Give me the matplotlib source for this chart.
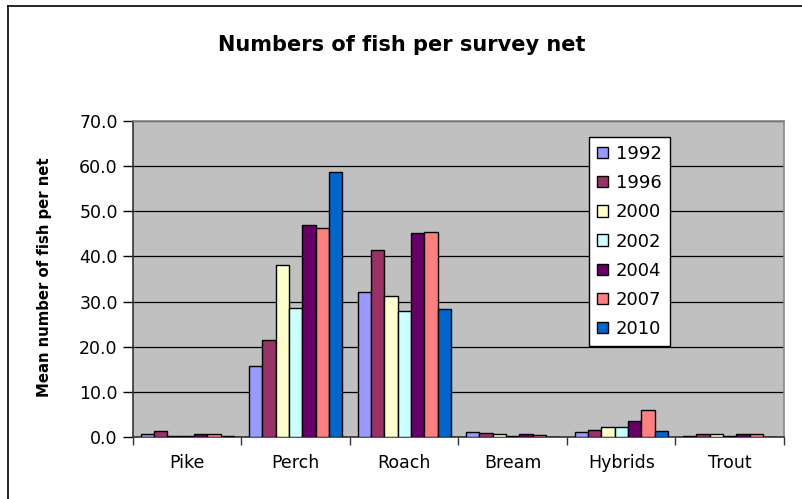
import matplotlib.pyplot as plt
import numpy as np
from matplotlib.lines import Line2D

plt.rcParams['font.family'] = ['DejaVu Sans']

# Mean catch per survey net, by species and survey year
species = ['Pike', 'Perch', 'Roach', 'Bream', 'Hybrids', 'Trout']
years = ['1992', '1996', '2000', '2002', '2004', '2007', '2010']

fish_1992 = [0.7, 15.7, 32.1, 1.2, 1.0, 0.3]
fish_1996 = [1.3, 21.4, 41.4, 0.9, 1.6, 0.7]
fish_2000 = [0.2, 38.2, 31.2, 0.6, 2.2, 0.7]
fish_2002 = [0.2, 28.6, 28.0, 0.3, 2.2, 0.3]
fish_2004 = [0.7, 46.9, 45.1, 0.6, 3.5, 0.7]
fish_2007 = [0.7, 46.3, 45.5, 0.4, 6.0, 0.7]
fish_2010 = [0.3, 58.6, 28.3, 0.0, 1.3, 0.0]

series = [fish_1992, fish_1996, fish_2000, fish_2002, fish_2004, fish_2007, fish_2010]
colors = ['#9999FF', '#993366', '#FFFFCC', '#CCFFFF', '#660066', '#FF8080', '#0066CC']

fig = plt.figure(figsize=(8.03, 4.99), dpi=100)
ax = fig.add_axes([133 / 803, 62 / 499, 651 / 803, 316 / 499])
ax.set_facecolor('#C0C0C0')

x = np.arange(len(species))
w = 0.123
for i, (vals, col, yr) in enumerate(zip(series, colors, years)):
    ax.bar(x + (i - 3) * w, vals, width=w, color=col, edgecolor='black',
           linewidth=1.0, label=yr, zorder=3)

ax.set_xlim(-0.5, len(species) - 0.5)
ax.set_ylim(0, 70)
ax.set_yticks(np.arange(0, 71, 10))
ax.set_yticklabels([f'{v:.1f}' for v in np.arange(0, 71, 10)], fontsize=12.5)
ax.yaxis.grid(True, color='black', linewidth=0.9, zorder=1)
ax.set_axisbelow(True)

# category labels centred, tick marks between categories
ax.set_xticks(x)
ax.set_xticklabels(species, fontsize=12.5)
ax.tick_params(axis='x', which='major', length=0, pad=12)
ax.set_xticks(np.arange(-0.5, len(species), 1.0), minor=True)
ax.tick_params(axis='x', which='minor', length=6, width=1, color='#333333')
ax.tick_params(axis='y', length=7, width=1, pad=4)

ax.spines['left'].set_color('#333333')
ax.spines['bottom'].set_color('#333333')
ax.spines['top'].set_color('#888888')
ax.spines['right'].set_color('#888888')
for s in ax.spines.values():
    s.set_linewidth(1.2)

ax.set_ylabel('Mean number of fish per net', fontsize=10.7, fontweight='bold')
ax.yaxis.set_label_coords(-0.124, 0.506)

fig.text(0.5, 1 - 45 / 499, 'Numbers of fish per survey net', ha='center', va='center',
         fontsize=15, fontweight='bold')

leg = ax.legend(loc='upper left', bbox_to_anchor=(0.70, 0.95), fontsize=13,
                frameon=True, fancybox=False, edgecolor='black', framealpha=1,
                handlelength=0.6, handleheight=0.6, handletextpad=0.45,
                labelspacing=0.62, borderpad=0.45, borderaxespad=0)
leg.get_frame().set_linewidth(1.0)

# outer chart border (left and top only)
fig.add_artist(Line2D([8 / 803, 8 / 803], [0, 1 - 6 / 499], color='black', linewidth=1.2))
fig.add_artist(Line2D([8 / 803, 1], [1 - 6 / 499, 1 - 6 / 499], color='black', linewidth=1.2))

fig.savefig('out.png', dpi=100)
